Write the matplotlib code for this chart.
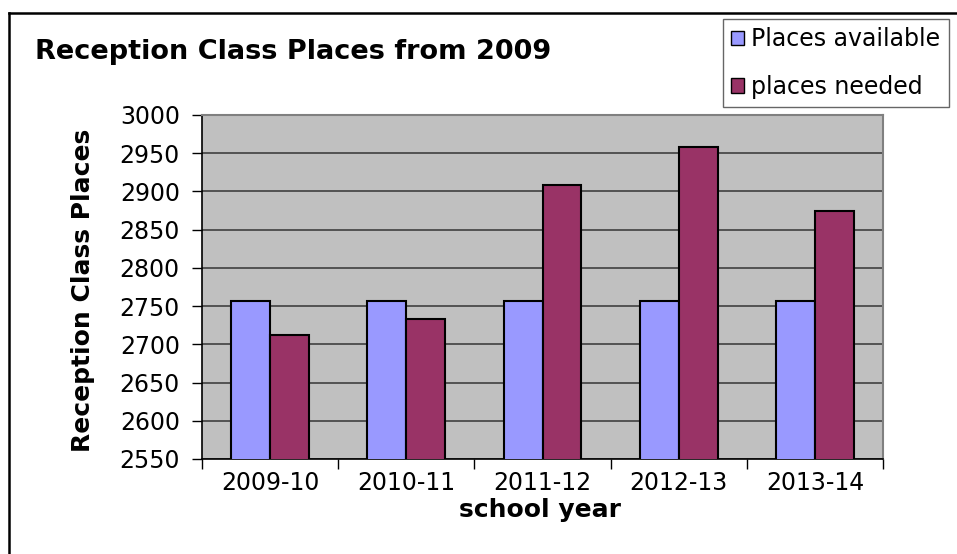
import numpy as np
import matplotlib.pyplot as plt
from matplotlib.lines import Line2D
from matplotlib.patches import Patch

years = ['2009-10', '2010-11', '2011-12', '2012-13', '2013-14']
available = [2757, 2757, 2757, 2757, 2757]
needed = [2712, 2733, 2909, 2958, 2875]
y_ticks = [2550, 2600, 2650, 2700, 2750, 2800, 2850, 2900, 2950, 3000]

W, H = 957, 554
fig = plt.figure(figsize=(W / 100, H / 100), dpi=100)
ax = fig.add_axes([202 / W, 95 / H, 681 / W, 344 / H])

x = np.arange(len(years))
w = 0.2857
ax.bar(x - w / 2, available, w, color='#9999FF', edgecolor='black', linewidth=1.5, zorder=3)
ax.bar(x + w / 2, needed, w, color='#993366', edgecolor='black', linewidth=1.5, zorder=3)

ax.set_facecolor('#C0C0C0')
ax.set_xlim(-0.5, len(years) - 0.5)
ax.set_ylim(y_ticks[0], y_ticks[-1])
ax.set_yticks(y_ticks)
ax.yaxis.grid(True, color='#404040', linewidth=1.2)
ax.set_axisbelow(True)

# category boundary ticks, labels in the middle
ax.set_xticks(np.arange(-0.5, len(years), 1))
ax.set_xticklabels([])
ax.set_xticks(x, minor=True)
ax.set_xticklabels(years, minor=True, fontsize=17)
ax.tick_params(axis='x', which='minor', length=0, pad=9)
ax.tick_params(axis='x', which='major', length=7, width=1, color='black')
ax.tick_params(axis='y', length=7, width=1, labelsize=17, pad=9)

for s in ['top', 'right']:
    ax.spines[s].set_color('#808080')
    ax.spines[s].set_linewidth(1.5)
for s in ['left', 'bottom']:
    ax.spines[s].set_color('black')
    ax.spines[s].set_linewidth(1.2)

fig.text(35 / W, 1 - 52 / H, 'Reception Class Places from 2009', fontsize=19.5,
         fontweight='bold', va='center', ha='left')
fig.text(83 / W, 1 - 290 / H, 'Reception Class Places', fontsize=18,
         fontweight='bold', rotation=90, va='center', ha='center')
fig.text(540 / W, 1 - 510 / H, 'school year', fontsize=18,
         fontweight='bold', va='center', ha='center')

handles = [Patch(facecolor='#9999FF', edgecolor='black', label='Places available'),
           Patch(facecolor='#993366', edgecolor='black', label='places needed')]
leg = fig.legend(handles=handles, loc='upper left', bbox_to_anchor=(723 / W, 1 - 19 / H),
                 fontsize=17, frameon=True, fancybox=False, edgecolor='#404040',
                 handlelength=0.55, handleheight=0.55, handletextpad=0.3,
                 labelspacing=1.0, borderpad=0.35, borderaxespad=0)
leg.get_frame().set_linewidth(1)

# chart border (only top and left edges are visible)
fig.add_artist(Line2D([9 / W, 1], [1 - 13 / H, 1 - 13 / H], transform=fig.transFigure,
                      color='black', linewidth=1.8))
fig.add_artist(Line2D([9 / W, 9 / W], [0, 1 - 13 / H], transform=fig.transFigure,
                      color='black', linewidth=1.8))

fig.savefig('out.png', dpi=100)
